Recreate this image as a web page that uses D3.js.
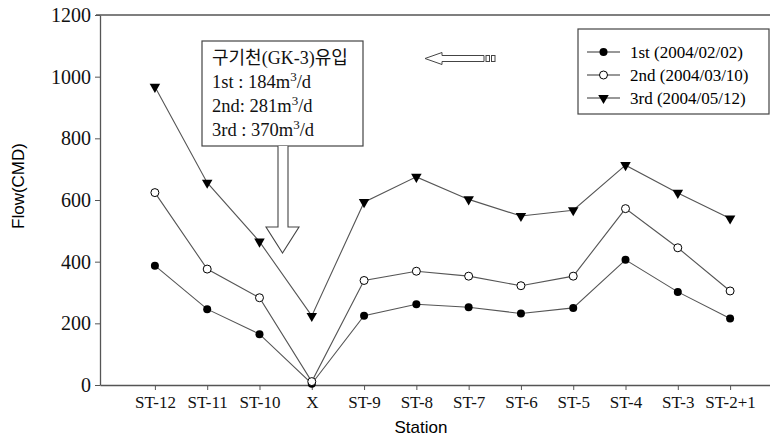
<!DOCTYPE html>
<html>
<head>
<meta charset="utf-8">
<script src="https://cdn.jsdelivr.net/npm/d3@7"></script>
<style>
  body { margin: 0; background: #fff; }
  svg text { font-family: "Liberation Serif", "Times New Roman", "Noto Sans CJK KR", serif; }
</style>
</head>
<body>
<div id="chart"></div>
<script>
// stations along x
var stations = ["ST-12", "ST-11", "ST-10", "X", "ST-9", "ST-8", "ST-7", "ST-6", "ST-5", "ST-4", "ST-3", "ST-2+1"];
// flow values (CMD)
var first  = [387, 246, 165, 4, 225, 262, 252, 232, 250, 406, 302, 216];
var second = [624, 376, 283, 11, 339, 369, 353, 322, 353, 572, 445, 305];
var third  = [967, 656, 465, 224, 593, 675, 602, 548, 567, 713, 623, 540];
var seriesNames = ["1st (2004/02/02)", "2nd (2004/03/10)", "3rd (2004/05/12)"];
var yTicks = [0, 200, 400, 600, 800, 1000, 1200];
var noteLines = ["구기천(GK-3)유입", "1st : 184m", "2nd: 281m", "3rd : 370m"];

function base() {
    var w = 770, h = 444;
    var svg = d3.select("#chart").append("svg")
        .attr("width", w).attr("height", h);

    var x = d3.scalePoint().domain(stations).range([100, 785]).padding(1.05);
    var y = d3.scaleLinear().domain([0, 1200]).range([385, 15]);

    var axisColor = "#555";
    var serif = "'Liberation Serif', 'Times New Roman', serif";

    // top frame line
    svg.append("line")
        .attr("x1", 96).attr("x2", 790)
        .attr("y1", y(1200)).attr("y2", y(1200))
        .attr("stroke", axisColor).attr("stroke-width", 1.3);

    // y axis
    var yAxis = svg.append("g")
        .attr("transform", "translate(100,0)")
        .call(d3.axisLeft(y).tickValues(yTicks).tickFormat(d3.format("d"))
            .tickSize(5).tickPadding(4).tickSizeOuter(0))
        .attr("font-family", serif);
    yAxis.select(".domain").attr("stroke", axisColor).attr("stroke-width", 1.3);
    yAxis.selectAll(".tick line").attr("stroke", axisColor);
    yAxis.selectAll("text").attr("font-size", 20).attr("fill", "#111")
        .style("font-family", serif);

    // x axis
    var xAxis = svg.append("g")
        .attr("transform", "translate(0,385)")
        .call(d3.axisBottom(x).tickSize(5).tickPadding(6).tickSizeOuter(0))
        .attr("font-family", serif);
    xAxis.select(".domain").attr("stroke", axisColor).attr("stroke-width", 1.3);
    xAxis.selectAll(".tick line").attr("stroke", axisColor);
    xAxis.selectAll("text").attr("font-size", 17).attr("fill", "#111")
        .style("font-family", serif);

    // axis titles
    svg.append("text")
        .attr("transform", "translate(24,186) rotate(-90)")
        .attr("text-anchor", "middle")
        .attr("font-size", 17)
        .style("font-family", "'Liberation Sans', Arial, sans-serif")
        .text("Flow(CMD)");
    svg.append("text")
        .attr("x", 421).attr("y", 433)
        .attr("text-anchor", "middle")
        .attr("font-size", 17)
        .style("font-family", "'Liberation Sans', Arial, sans-serif")
        .text("Station");

    var line = d3.line()
        .x(function(d, i) { return x(stations[i]); })
        .y(function(d) { return y(d); });

    var allSeries = [first, second, third];
    var tri = d3.symbol().type(d3.symbolTriangle).size(48);

    function drawMarker(g, k) {
        if (k == 0) {
            g.append("circle").attr("r", 4).attr("fill", "#000");
        } else if (k == 1) {
            g.append("circle").attr("r", 4).attr("fill", "#fff")
                .attr("stroke", "#000").attr("stroke-width", 1);
        } else {
            g.append("path").attr("d", tri).attr("transform", "rotate(180)").attr("fill", "#000");
        }
    }

    // draw lines first, then markers on top
    allSeries.forEach(function(vals) {
        svg.append("path")
            .datum(vals)
            .attr("d", line)
            .attr("fill", "none")
            .attr("stroke", "#555")
            .attr("stroke-width", 1.1);
    });
    allSeries.forEach(function(vals, k) {
        vals.forEach(function(v, i) {
            var g = svg.append("g")
                .attr("transform", "translate(" + x(stations[i]) + "," + y(v) + ")");
            drawMarker(g, k);
        });
    });

    // legend
    var lg = svg.append("g");
    lg.append("rect")
        .attr("x", 578).attr("y", 29).attr("width", 191).attr("height", 85)
        .attr("fill", "#fff").attr("stroke", "#444").attr("stroke-width", 1.2);
    seriesNames.forEach(function(name, k) {
        var cy = 52 + k * 23;
        lg.append("line")
            .attr("x1", 587).attr("x2", 620).attr("y1", cy).attr("y2", cy)
            .attr("stroke", "#333").attr("stroke-width", 1.1);
        drawMarker(lg.append("g").attr("transform", "translate(603.5," + cy + ")"), k);
        lg.append("text")
            .attr("x", 630).attr("y", cy + 6)
            .attr("font-size", 17)
            .text(name);
    });

    // inflow note box with arrow
    svg.append("rect")
        .attr("x", 202).attr("y", 41).attr("width", 161).attr("height", 105)
        .attr("fill", "#fff").attr("stroke", "#444").attr("stroke-width", 1.2);
    svg.append("path")
        .attr("d", "M278,146 L278,227 L266,227 L282.5,253 L299,227 L288,227 L288,146")
        .attr("fill", "#fff").attr("stroke", "#444").attr("stroke-width", 1.1);
    var baselines = [64, 88, 112, 136];
    noteLines.forEach(function(t, i) {
        var txt = svg.append("text")
            .attr("x", 212).attr("y", baselines[i])
            .attr("font-size", i == 0 ? 18 : 18.5)
            .attr("fill", "#111");
        txt.append("tspan").text(t);
        if (i > 0) {
            txt.append("tspan").attr("dy", -7).attr("font-size", 13).text("3");
            txt.append("tspan").attr("dy", 7).text("/d");
        }
    });

    // small flow-direction arrow
    svg.append("path")
        .attr("d", "M425,58.5 L442,52.5 L442,55.5 L484,55.5 L484,61.5 L442,61.5 L442,64.5 Z")
        .attr("fill", "#fff").attr("stroke", "#444").attr("stroke-width", 1);
    svg.append("rect").attr("x", 486).attr("y", 55.5).attr("width", 3.5).attr("height", 6)
        .attr("fill", "#fff").attr("stroke", "#444").attr("stroke-width", 1);
    svg.append("rect").attr("x", 491.5).attr("y", 55.5).attr("width", 3.5).attr("height", 6)
        .attr("fill", "#fff").attr("stroke", "#444").attr("stroke-width", 1);
}

window.onload = base;
</script>
</body>
</html>
